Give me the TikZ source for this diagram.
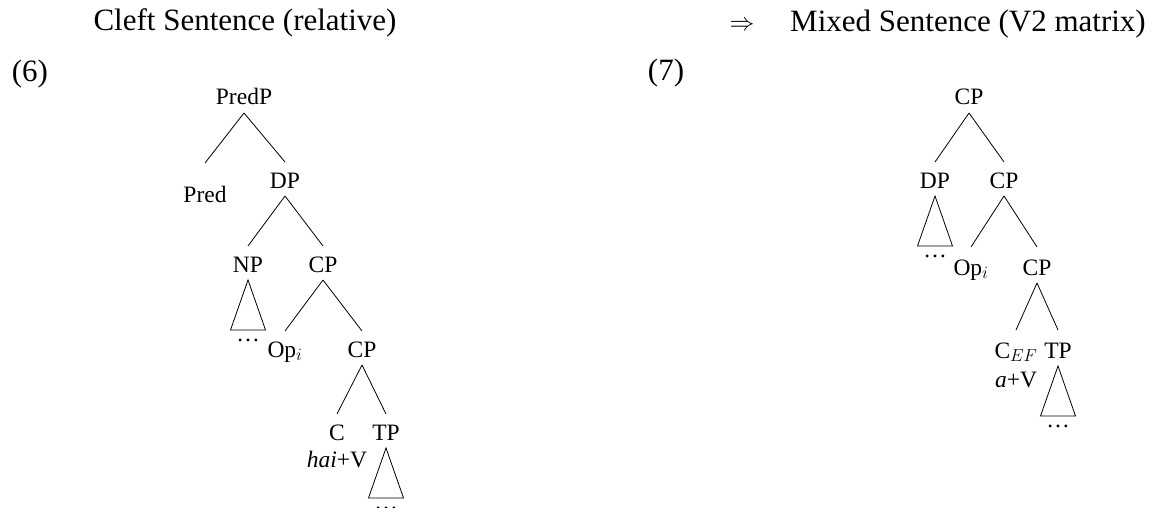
\documentclass[tikz,border=0pt]{standalone}
\usepackage{fontspec}
\setmainfont{Liberation Serif}
\tikzset{
  lab/.style={font=\fontsize{23.5}{28}\selectfont, inner sep=0pt, anchor=base},
  head/.style={font=\fontsize{31}{36}\selectfont, inner sep=0pt, anchor=base},
  branch/.style={draw=black, line width=0.8pt},
}
\newcommand\treeedge[3][26]{\draw[branch] ([yshift=-8pt]#2.base) -- ([yshift=#1pt]#3.base);}
\newcommand\treetri[2]{\draw[branch] ([yshift=-8pt]#1.base) -- ++(-17.5,50) -- ++(35,0) -- cycle;
  \node[lab] (#2) at ([yshift=-69pt]#1.base) {\ldots};}
\begin{document}
\begin{tikzpicture}[x=1pt,y=-1pt]
\useasboundingbox (0,0) rectangle (1156,508);
% headings
\node[head] (t1) at (245,31) {Cleft Sentence (relative)};
\node[head] (arr) at (742,31) {$\Rightarrow$};
\node[head] (t2) at (968,32) {Mixed Sentence (V2 matrix)};
\node[head] (ex6) at (30,82) {(6)};
\node[head] (ex7) at (666,81) {(7)};
% left tree
\node[lab] (predP) at (244,105) {PredP};
\node[lab] (pred) at (205,202) {Pred};
\node[lab] (dpL) at (285,188) {DP};
\node[lab] (npL) at (248,272) {NP};
\node[lab] (cpL1) at (323,272) {CP};
\node[lab] (opL) at (285,357) {Op$_{i}$};
\node[lab] (cpL2) at (362,357) {CP};
\node[lab] (cL) at (337,440) {C};
\node[lab] (tpL) at (386,440) {TP};
\node[lab] (haiV) at (337,467) {\textit{hai}+V};
\treeedge[39]{predP}{pred}
\treeedge{predP}{dpL}
\treeedge{dpL}{npL}
\treeedge{dpL}{cpL1}
\treeedge{cpL1}{opL}
\treeedge{cpL1}{cpL2}
\treeedge{cpL2}{cL}
\treeedge{cpL2}{tpL}
\treetri{npL}{dotsNP}
\treetri{tpL}{dotsTPL}
% right tree
\node[lab] (cpR0) at (969,105) {CP};
\node[lab] (dpR) at (935,188) {DP};
\node[lab] (cpR1) at (1004,188) {CP};
\node[lab] (opR) at (971,275) {Op$_{i}$};
\node[lab] (cpR2) at (1037,275) {CP};
\node[lab] (cR) at (1016,358) {C$_{EF}$};
\node[lab] (tpR) at (1058,358) {TP};
\node[lab] (aV) at (1016,387) {\textit{a}+V};
\treeedge{cpR0}{dpR}
\treeedge{cpR0}{cpR1}
\treeedge[28]{cpR1}{opR}
\treeedge[28]{cpR1}{cpR2}
\treeedge[28]{cpR2}{cR}
\treeedge[28]{cpR2}{tpR}
\treetri{dpR}{dotsDP}
\treetri{tpR}{dotsTPR}
\end{tikzpicture}
\end{document}
